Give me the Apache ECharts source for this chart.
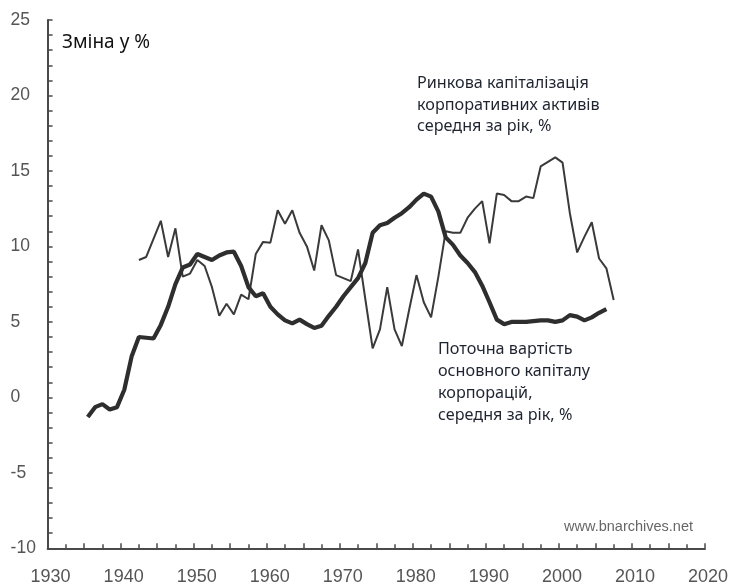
<!DOCTYPE html>
<html>
<head>
<meta charset="utf-8">
<script src="https://cdn.jsdelivr.net/npm/echarts@6/dist/echarts.min.js"></script>
<style>html,body{margin:0;padding:0;background:#fff;}#c{width:733px;height:582px;}</style>
</head>
<body>
<div id="c"></div>
<script>
// Поточна вартість основного капіталу корпорацій (thick line), 1935-2006
const capitalYears = [1935,1936,1937,1938,1939,1940,1941,1942,1943,1944,1945,1946,1947,1948,1949,
  1950,1951,1952,1953,1954,1955,1956,1957,1958,1959,1960,1961,1962,1963,1964,1965,1966,1967,1968,1969,
  1970,1971,1972,1973,1974,1975,1976,1977,1978,1979,1980,1981,1982,1983,1984,1985,1986,1987,1988,1989,
  1990,1991,1992,1993,1994,1995,1996,1997,1998,1999,2000,2001,2002,2003,2004,2005,2006];
const capitalValues = [-1.3,-0.65,-0.45,-0.8,-0.65,0.5,2.7,4.0,3.95,3.9,4.8,6.0,7.5,8.6,8.8,
  9.5,9.3,9.1,9.4,9.6,9.65,8.7,7.3,6.7,6.9,6.0,5.5,5.1,4.9,5.15,4.85,4.6,4.75,5.4,6.0,
  6.7,7.3,7.9,8.9,10.9,11.4,11.55,11.9,12.2,12.6,13.1,13.5,13.3,12.3,10.6,10.1,9.4,8.9,8.3,7.4,
  6.3,5.15,4.85,5.0,5.0,5.0,5.05,5.1,5.1,5.0,5.1,5.45,5.35,5.1,5.3,5.6,5.85];

// Ринкова капіталізація корпоративних активів (thin line), 1942-2007
const marketYears = [1942,1943,1944,1945,1946,1947,1948,1949,
  1950,1951,1952,1953,1954,1955,1956,1957,1958,1959,1960,1961,1962,1963,1964,1965,1966,1967,1968,1969,
  1970,1971,1972,1973,1974,1975,1976,1977,1978,1979,1980,1981,1982,1983,1984,1985,1986,1987,1988,1989,
  1990,1991,1992,1993,1994,1995,1996,1997,1998,1999,2000,2001,2002,2003,2004,2005,2006,2007];
const marketValues = [9.1,9.3,10.5,11.7,9.3,11.2,8.0,8.2,
  9.1,8.7,7.3,5.4,6.2,5.5,6.8,6.5,9.5,10.3,10.25,12.4,11.5,12.4,10.9,10.0,8.4,11.4,10.4,8.1,
  7.9,7.7,9.8,6.5,3.25,4.5,7.3,4.5,3.4,5.8,8.1,6.3,5.3,8.0,11.0,10.9,10.9,11.9,12.5,13.0,
  10.2,13.5,13.4,13.0,13.0,13.3,13.2,15.3,15.6,15.9,15.55,12.2,9.6,10.65,11.6,9.2,8.55,6.45];

const yTitle = 'Зміна у %';
const marketLabel = 'Ринкова капіталізація\nкорпоративних активів\nсередня за рік, %';
const capitalLabel = 'Поточна вартість\nосновного капіталу\nкорпорацій,\nсередня за рік, %';
const sourceLabel = 'www.bnarchives.net';

// annual averages plotted at mid-year
const toPoints = (years, vals) => years.map((y, i) => [y + 0.5, vals[i]]);

const chart = echarts.init(document.getElementById('c'), null, {renderer: 'canvas'});
const axisColor = '#4a4a4a';
const labelColor = '#555';
chart.setOption({
  animation: false,
  backgroundColor: '#fff',
  grid: {left: 47.6, right: 28, top: 20, bottom: 33.7, containLabel: false, outerBoundsMode: 'none'},
  xAxis: {
    type: 'value', min: 1930, max: 2020, interval: 5,
    axisLine: {onZero: false, lineStyle: {color: axisColor, width: 2}},
    axisTick: {show: true, inside: true, length: 5, lineStyle: {color: axisColor, width: 1.5}},
    minorTick: {show: true, splitNumber: 2, length: 4, lineStyle: {color: axisColor, width: 1.5}},
    splitLine: {show: false},
    axisLabel: {
      color: labelColor, fontFamily: 'Liberation Sans', fontSize: 18, margin: 20,
      padding: [0, 0, 0, 6],
      formatter: v => (v % 10 === 0 ? String(v) : '')
    }
  },
  yAxis: {
    type: 'value', min: -10, max: 25, interval: 5,
    axisLine: {show: true, onZero: false, lineStyle: {color: axisColor, width: 2}},
    axisTick: {show: true, inside: true, length: 5, lineStyle: {color: axisColor, width: 1.5}},
    minorTick: {show: true, splitNumber: 5, length: 5, lineStyle: {color: axisColor, width: 1.5}},
    splitLine: {show: false},
    axisLabel: {
      color: labelColor, fontFamily: 'Liberation Sans', fontSize: 17.5, margin: 37, align: 'left'
    }
  },
  series: [
    {
      type: 'line', data: toPoints(marketYears, marketValues), symbol: 'none',
      lineStyle: {color: '#3a3a3a', width: 2}, z: 2
    },
    {
      type: 'line', data: toPoints(capitalYears, capitalValues), symbol: 'none',
      lineStyle: {color: '#2e2e2e', width: 4.2}, z: 3
    }
  ],
  graphic: [
    {type: 'text', left: 62, top: 33, style: {text: yTitle, font: '19px "Noto Sans"', fill: '#111'}},
    {type: 'text', left: 417, top: 73, style: {text: marketLabel, font: '16.2px "Noto Sans"', fill: '#1e2430', lineHeight: 21.5}},
    {type: 'text', left: 438, top: 339, style: {text: capitalLabel, font: '16.2px "Noto Sans"', fill: '#1e2430', lineHeight: 21.7}},
    {type: 'text', right: 40, top: 519, style: {text: sourceLabel, font: '14.5px "Liberation Sans"', fill: '#666'}}
  ]
});
</script>
</body>
</html>
